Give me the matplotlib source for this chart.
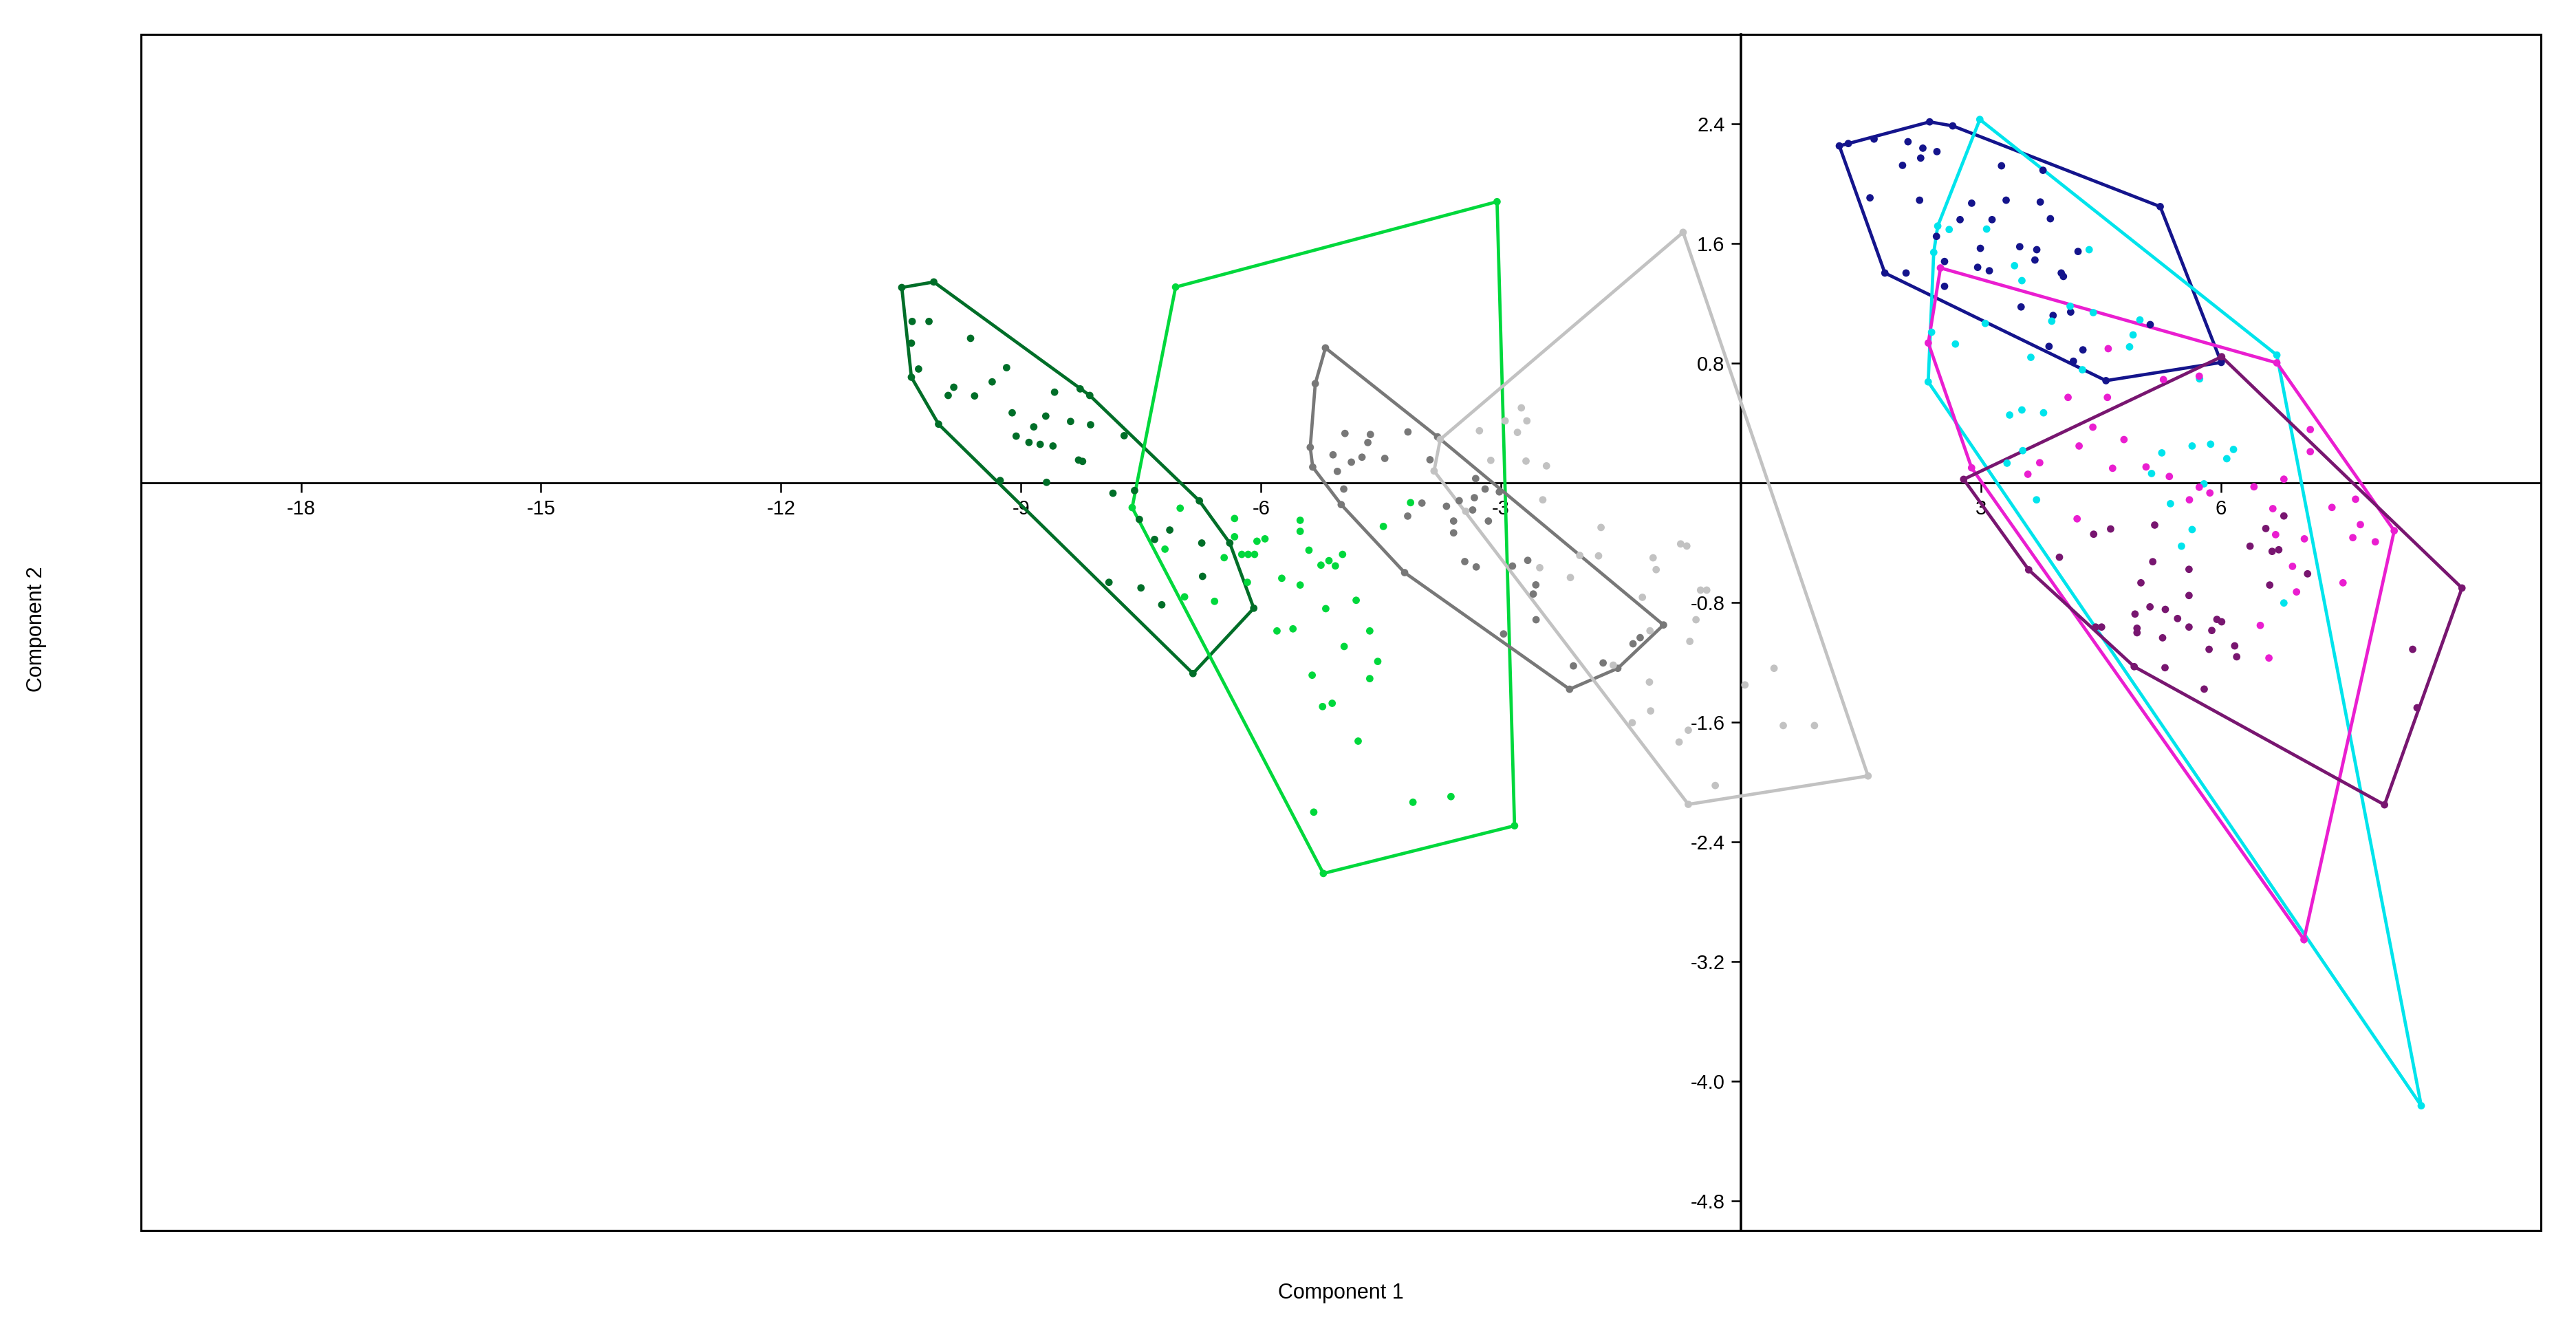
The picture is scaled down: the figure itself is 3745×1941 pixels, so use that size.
import numpy as np
import matplotlib
matplotlib.use("Agg")
import matplotlib.pyplot as plt
from matplotlib.patches import Rectangle

plt.rcParams['font.family'] = ['Liberation Sans', 'DejaVu Sans']
plt.rcParams['axes.unicode_minus'] = False

# ---------------- data (Component 1, Component 2) ----------------
dkgreen_x = [-10.49, -10.09, -10.36, -10.15, -10.37, -10.28, -10.37, -9.63, -9.18, -9.36, -9.84, -9.91, -9.58,
             -8.58, -8.26, -8.14, -9.11, -8.69, -8.84, -8.38, -8.13, -9.06, -8.90, -8.76, -8.60, -7.71, -8.28,
             -8.23, -10.03, -9.26, -8.68, -7.85, -7.58, -6.77, -7.52, -7.14, -7.33, -6.74, -6.39, -6.73, -7.90,
             -7.50, -7.24, -6.09, -6.85]
dkgreen_y = [1.307, 1.344, 1.08, 1.08, 0.935, 0.762, 0.707, 0.967, 0.771, 0.676, 0.640, 0.585, 0.582,
             0.607, 0.629, 0.585, 0.469, 0.447, 0.375, 0.411, 0.389, 0.313, 0.271, 0.258, 0.247, 0.316, 0.153,
             0.144, 0.393, 0.016, 0.004, -0.069, -0.051, -0.12, -0.244, -0.315, -0.378, -0.402, -0.402, -0.625,
             -0.665, -0.702, -0.815, -0.838, -1.275]

green_x = [-7.067, -3.049, -2.83, -5.22, -7.61, -7.01, -6.33, -6.33, -5.51, -5.51, -4.47, -4.13,
           -7.20, -6.46, -6.24, -6.16, -6.08, -6.05, -5.95, -5.40, -5.25, -5.15, -5.07, -4.98,
           -5.74, -5.51, -6.17, -6.955, -6.58, -4.81, -5.19, -5.80, -5.60, -4.64, -4.96, -4.54,
           -5.36, -4.64, -5.23, -5.11, -4.785, -5.34, -4.10, -3.625]
green_y = [1.31, 1.881, -2.293, -2.612, -0.165, -0.169, -0.238, -0.36, -0.25, -0.324, -0.291, -0.132,
           -0.443, -0.50, -0.478, -0.478, -0.478, -0.39, -0.374, -0.45, -0.55, -0.52, -0.555, -0.478,
           -0.638, -0.683, -0.665, -0.762, -0.792, -0.785, -0.841, -0.99, -0.976, -0.99, -1.094, -1.194,
           -1.286, -1.309, -1.496, -1.474, -1.727, -2.202, -2.136, -2.098]

gray_x = [-5.194, -5.321, -5.384, -5.353, -4.997, -4.204, -2.142, -1.539, -0.968, -3.792,
          -4.950, -4.632, -4.664, -4.163, -5.099, -4.870, -4.737, -4.452, -5.045, -3.887, -4.965,
          -3.316, -3.198, -3.02, -3.332, -3.522, -3.988, -3.681, -3.354, -4.166, -3.592, -3.157,
          -3.592, -3.452, -3.309, -2.856, -2.665, -2.564, -2.596, -2.561, -2.967, -2.094, -1.723,
          -1.349, -1.260]
gray_y = [0.903, 0.664, 0.238, 0.106, -0.145, -0.600, -1.38, -1.24, -0.95, 0.308,
          0.331, 0.324, 0.270, 0.341, 0.188, 0.139, 0.172, 0.164, 0.077, 0.155, -0.041,
          0.029, -0.041, -0.06, -0.099, -0.119, -0.135, -0.156, -0.181, -0.222, -0.255, -0.255,
          -0.334, -0.526, -0.562, -0.556, -0.518, -0.682, -0.743, -0.915, -1.01, -1.224, -1.204,
          -1.076, -1.035]

ltgray_x = [-0.723, 1.589, -0.658, -3.836, -3.759, -2.745, -2.676, -2.948, -3.269, -2.794, -3.127,
            -2.687, -2.431, -2.477, -1.749, -1.780, -2.132, -2.515, -2.015, -1.098, -1.060, -0.754,
            -0.677, -1.232, -0.505, -0.428, -0.562, -0.639, -1.137, -1.596, -1.144, -1.129, -1.359,
            -0.773, -0.658, 0.050, 0.414, 0.529, 0.919, -0.321, -3.44]
ltgray_y = [1.676, -1.960, -2.150, 0.080, 0.291, 0.502, 0.415, 0.415, 0.349, 0.338, 0.151,
            0.146, 0.114, -0.113, -0.298, -0.488, -0.633, -0.567, -0.485, -0.501, -0.580, -0.408,
            -0.422, -0.765, -0.717, -0.717, -0.915, -1.060, -0.989, -1.219, -1.332, -1.525, -1.604,
            -1.733, -1.654, -1.351, -1.240, -1.623, -1.623, -2.024, -0.19]

blue_x = [1.230, 2.359, 2.647, 5.241, 6.004, 4.563, 1.799, 1.342, 1.664, 2.088, 2.274, 2.450, 2.247,
          2.020, 3.257, 3.776, 1.613, 2.233, 2.884, 3.315, 3.742, 2.739, 3.139, 3.868, 2.444, 2.993,
          3.485, 3.698, 4.214, 3.675, 2.545, 2.064, 2.959, 3.105, 4.004, 4.031, 2.545, 3.502, 3.902,
          4.122, 5.116, 3.851, 4.275, 4.156]
blue_y = [2.254, 2.415, 2.388, 1.848, 0.806, 0.684, 1.404, 2.27, 2.300, 2.282, 2.239, 2.216, 2.173,
          2.124, 2.121, 2.091, 1.907, 1.891, 1.871, 1.891, 1.879, 1.761, 1.761, 1.767, 1.649, 1.569,
          1.580, 1.560, 1.548, 1.491, 1.481, 1.404, 1.442, 1.419, 1.404, 1.381, 1.315, 1.177, 1.120,
          1.143, 1.059, 0.913, 0.890, 0.814]

cyan_x = [2.986, 6.699, 8.504, 2.341, 2.410, 2.460, 2.603, 3.071, 4.353, 3.420, 3.512, 4.115, 4.404,
          4.987, 3.885, 4.902, 4.858, 3.054, 2.383, 2.681, 3.624, 4.268, 5.733, 3.359, 3.512, 3.783,
          5.261, 5.640, 5.871, 6.157, 6.073, 3.326, 5.133, 5.788, 3.695, 5.369, 5.640, 5.507, 6.787,
          3.523]
cyan_y = [2.431, 0.855, -4.166, 0.676, 1.542, 1.718, 1.695, 1.698, 1.560, 1.453, 1.353, 1.182, 1.139,
          1.090, 1.082, 0.990, 0.910, 1.067, 1.008, 0.929, 0.840, 0.757, 0.696, 0.454, 0.488, 0.469,
          0.201, 0.247, 0.259, 0.224, 0.162, 0.132, 0.063, -0.006, -0.113, -0.139, -0.312, -0.423, -0.803,
          0.216]

magenta_x = [2.494, 6.699, 8.166, 7.038, 2.883, 2.342, 4.591, 5.281, 5.729, 4.089, 4.581, 4.399, 4.788,
             4.227, 3.735, 3.587, 4.646, 5.064, 5.355, 5.729, 5.862, 5.606, 6.413, 6.787, 7.117, 7.117,
             6.649, 7.388, 7.683, 4.202, 7.743, 7.649, 7.930, 6.684, 7.043, 6.895, 7.526, 6.945, 6.492,
             6.600]
magenta_y = [1.438, 0.803, -0.320, -3.055, 0.101, 0.936, 0.898, 0.691, 0.714, 0.572, 0.572, 0.373, 0.290,
             0.247, 0.135, 0.058, 0.098, 0.107, 0.043, -0.029, -0.067, -0.113, -0.026, 0.025, 0.357, 0.209,
             -0.172, -0.164, -0.109, -0.240, -0.279, -0.366, -0.394, -0.346, -0.374, -0.558, -0.668, -0.729,
             -0.953, -1.171]

purple_x = [2.784, 6.009, 9.013, 8.045, 4.916, 3.597, 6.787, 6.561, 5.172, 4.621, 4.409, 3.981, 5.148,
            5.601, 6.364, 6.640, 6.723, 7.083, 5.000, 6.610, 5.601, 4.926, 5.113, 5.305, 5.458, 5.601,
            5.950, 6.009, 4.951, 4.951, 5.271, 5.886, 4.508, 4.434, 8.397, 5.852, 6.172, 6.197, 5.301,
            5.791, 8.452]
purple_y = [0.024, 0.844, -0.703, -2.153, -1.229, -0.581, -0.221, -0.305, -0.282, -0.308, -0.343, -0.497,
            -0.527, -0.578, -0.423, -0.458, -0.447, -0.608, -0.668, -0.683, -0.753, -0.877, -0.829, -0.846,
            -0.907, -0.964, -0.913, -0.929, -0.972, -1.002, -1.036, -0.987, -0.964, -0.964, -1.113, -1.113,
            -1.090, -1.163, -1.236, -1.379, -1.504]

groups = [
    (dkgreen_x, dkgreen_y, '#006e28'),
    (green_x, green_y, '#00d83c'),
    (gray_x, gray_y, '#787878'),
    (ltgray_x, ltgray_y, '#c2c2c2'),
    (blue_x, blue_y, '#14148c'),
    (cyan_x, cyan_y, '#00e4ec'),
    (magenta_x, magenta_y, '#ea1ed0'),
    (purple_x, purple_y, '#781670'),
]

xticks = [-18, -15, -12, -9, -6, -3, 3, 6]
yticks = [2.4, 1.6, 0.8, -0.8, -1.6, -2.4, -3.2, -4.0, -4.8]


def convex_hull(xs, ys):
    pts = sorted(set(zip(xs, ys)))

    def cross(o, a, b):
        return (a[0] - o[0]) * (b[1] - o[1]) - (a[1] - o[1]) * (b[0] - o[0])

    lower = []
    for p in pts:
        while len(lower) >= 2 and cross(lower[-2], lower[-1], p) <= 0:
            lower.pop()
        lower.append(p)
    upper = []
    for p in reversed(pts):
        while len(upper) >= 2 and cross(upper[-2], upper[-1], p) <= 0:
            upper.pop()
        upper.append(p)
    h = lower[:-1] + upper[:-1]
    h.append(h[0])
    h = np.array(h)
    return h[:, 0], h[:, 1]


fig = plt.figure(figsize=(37.45, 19.41), dpi=100)
ax = fig.add_axes([0.05474, 0.07831, 0.93164, 0.89593])
ax.set_xlim(-20, 10)
ax.set_ylim(-5, 3)

for xs, ys, col in groups:
    hx, hy = convex_hull(xs, ys)
    ax.plot(hx, hy, color=col, lw=3.4, zorder=3, solid_joinstyle='miter')
    ax.scatter(xs, ys, s=60, color=col, edgecolors='none', zorder=4)

for s in ['top', 'right']:
    ax.spines[s].set_visible(False)
ax.spines['left'].set_position(('data', 0))
ax.spines['bottom'].set_position(('data', 0))
ax.spines['left'].set_linewidth(2.6)
ax.spines['bottom'].set_linewidth(2.0)
ax.add_patch(Rectangle((0, 0), 1, 1, transform=ax.transAxes, fill=False,
                       lw=2.2, ec='black', clip_on=False, zorder=6))

ax.set_xticks(xticks)
ax.set_xticklabels([str(t) for t in xticks])
ax.set_yticks(yticks)
ax.set_yticklabels(['%.1f' % t for t in yticks])
ax.tick_params(axis='both', direction='out', length=10, width=1.8, labelsize=21, pad=7, colors='black')

fig.text(0.5206, 0.0314, 'Component 1', ha='center', va='center', fontsize=22)
fig.text(0.0142, 0.5286, 'Component 2', ha='center', va='center', rotation=90, fontsize=22)

fig.savefig('out.png', dpi=100, facecolor='white')
